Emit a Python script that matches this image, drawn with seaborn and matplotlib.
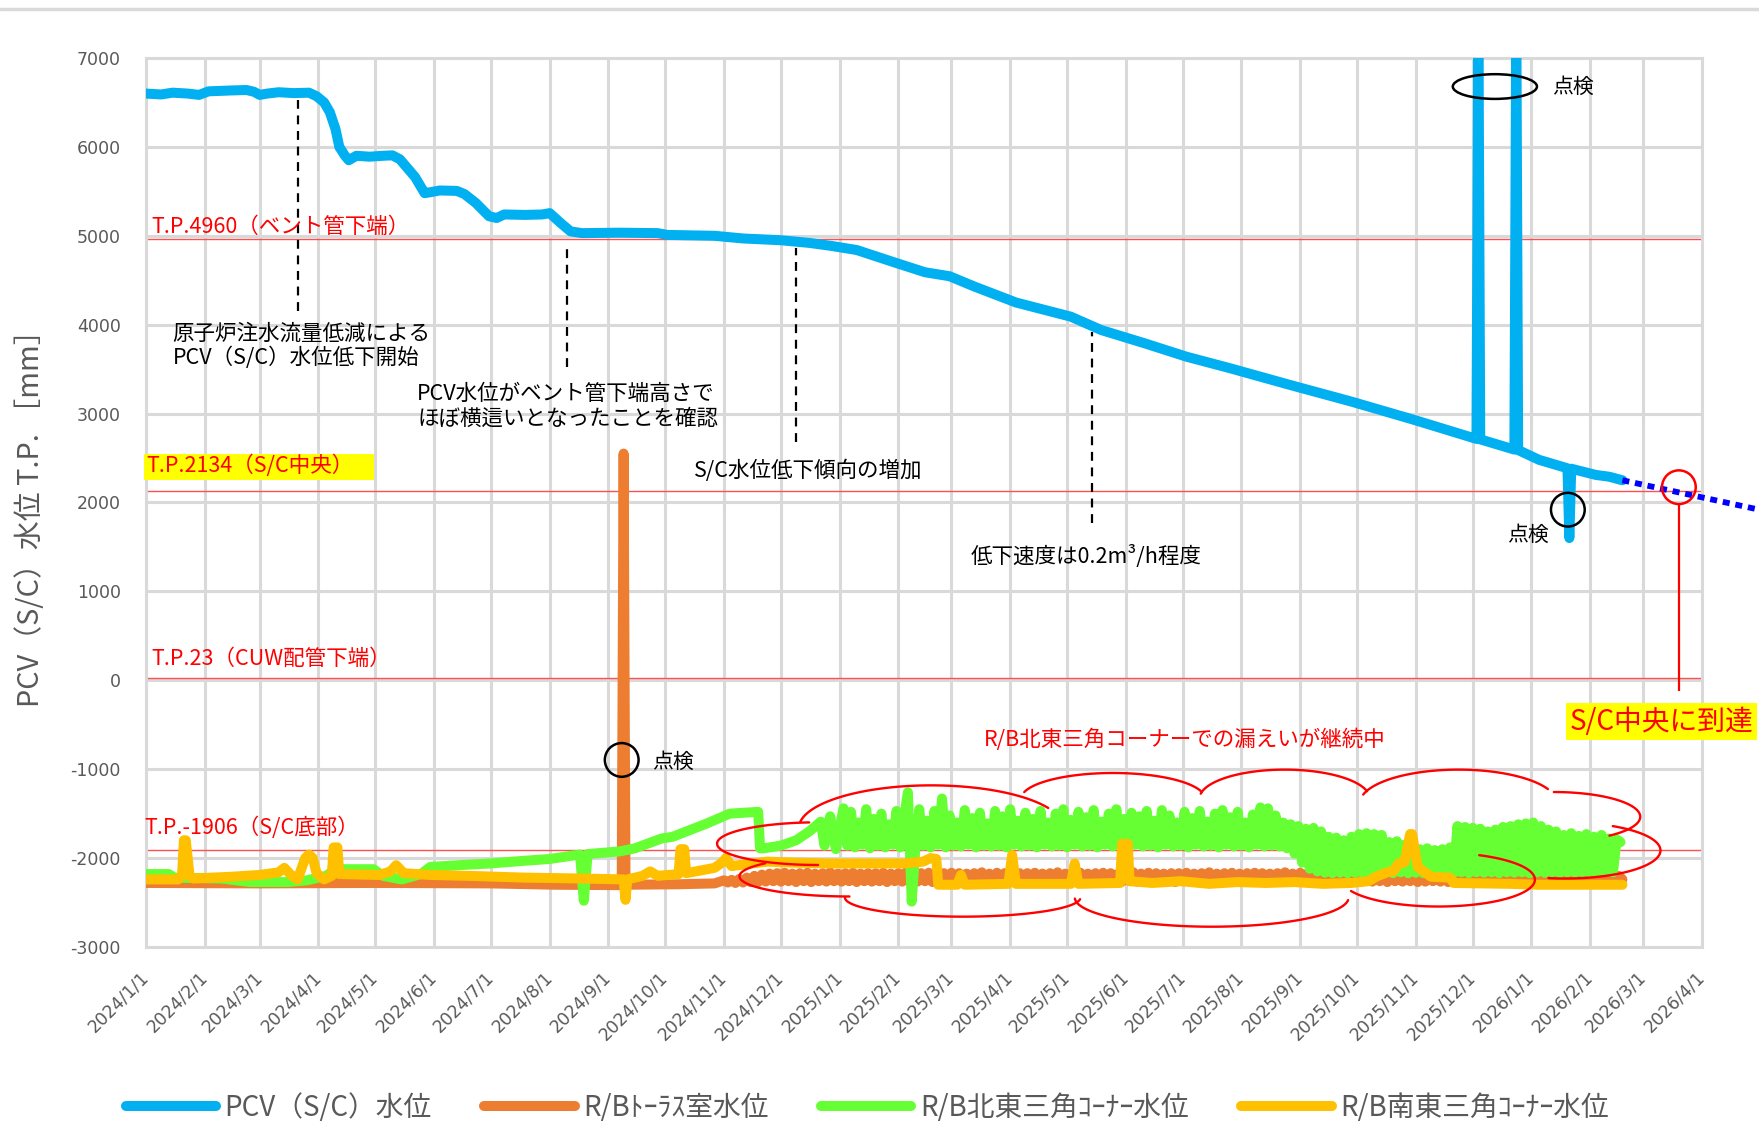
import matplotlib
matplotlib.use("Agg")
import matplotlib.pyplot as plt
import matplotlib.dates as mdates
from matplotlib.patches import Ellipse, Rectangle
from matplotlib.lines import Line2D
import numpy as np
import pandas as pd
import seaborn as sns

# ---------------- data (T.P. mm) ----------------
# PCV (S/C) water level
pcv_dates = [
    "2024-01-01", "2024-01-09", "2024-01-15", "2024-01-23", "2024-01-29", "2024-02-03",
    "2024-02-15", "2024-02-23", "2024-02-27", "2024-03-01", "2024-03-05", "2024-03-11",
    "2024-03-19", "2024-03-27", "2024-03-31", "2024-04-04", "2024-04-07", "2024-04-10",
    "2024-04-12", "2024-04-15", "2024-04-17", "2024-04-21", "2024-04-28", "2024-05-05",
    "2024-05-10", "2024-05-14", "2024-05-22", "2024-05-27", "2024-05-30", "2024-06-04",
    "2024-06-13", "2024-06-17", "2024-06-23", "2024-06-30", "2024-07-04", "2024-07-08",
    "2024-07-19", "2024-07-28", "2024-08-01", "2024-08-07", "2024-08-12", "2024-08-18",
    "2024-09-07", "2024-09-27", "2024-10-02", "2024-10-27", "2024-11-11", "2024-12-01",
    "2024-12-16", "2024-12-28", "2025-01-10", "2025-01-30", "2025-02-15", "2025-02-28",
    "2025-03-13", "2025-04-04", "2025-05-03", "2025-05-19", "2025-06-11", "2025-07-03",
    "2025-07-26", "2025-08-27", "2025-09-28", "2025-10-31", "2025-12-03", "2025-12-04",
    "2025-12-05", "2025-12-23", "2025-12-24", "2025-12-25", "2026-01-05", "2026-01-20",
    "2026-01-21", "2026-01-22", "2026-02-04", "2026-02-11", "2026-02-18",
]
pcv_vals = [
    6600, 6590, 6610, 6600, 6585, 6625,
    6635, 6640, 6620, 6585, 6600, 6615,
    6605, 6610, 6570, 6500, 6390, 6200,
    6000, 5900, 5850, 5900, 5890, 5900,
    5905, 5860, 5660, 5480, 5490, 5510,
    5505, 5470, 5370, 5220, 5200, 5240,
    5235, 5240, 5255, 5140, 5050, 5030,
    5035, 5030, 5010, 5000, 4970, 4950,
    4920, 4885, 4840, 4700, 4590, 4545,
    4430, 4250, 4090, 3940, 3790, 3640,
    3510, 3320, 3135, 2930, 2715, 7600,
    2710, 2595, 7600, 2590, 2480, 2385,
    1600, 2380, 2310, 2290, 2250,
]

# projected PCV trend (dotted)
trend_dates = ["2026-02-18", "2026-05-01"]
trend_vals = [2250, 1920]

# R/B torus room
torus_dates = [
    "2024-01-01", "2024-03-01", "2024-05-01", "2024-07-01", "2024-08-04", "2024-09-07",
    "2024-09-08", "2024-09-09", "2024-09-10", "2024-10-07", "2024-10-27",
]
torus_vals = [-2280, -2285, -2280, -2285, -2300, -2305, -2305, 2550, -2300, -2295, -2285]
torus_band_start = "2024-11-01"   # readings every 2 days from here
torus_band_vals = [
    -2250, -2275, -2245, -2280, -2235, -2275, -2220, -2270, -2200, -2270,
    -2185, -2265, -2175, -2260, -2170, -2265, -2165, -2260, -2175, -2270,
    -2170, -2260, -2165, -2270, -2175, -2260, -2170, -2265, -2160, -2260,
    -2175, -2265, -2170, -2260, -2165, -2270, -2175, -2260, -2170, -2265,
    -2170, -2260, -2165, -2270, -2175, -2260, -2170, -2265, -2160, -2260,
    -2175, -2265, -2170, -2260, -2165, -2270, -2175, -2260, -2170, -2265,
    -2165, -2260, -2170, -2270, -2175, -2265, -2170, -2260, -2160, -2265,
    -2175, -2270, -2165, -2260, -2170, -2265, -2175, -2260, -2170, -2270,
    -2170, -2260, -2165, -2270, -2175, -2260, -2170, -2265, -2160, -2260,
    -2175, -2265, -2170, -2260, -2165, -2270, -2175, -2260, -2170, -2265,
    -2165, -2260, -2170, -2270, -2175, -2265, -2170, -2260, -2160, -2265,
    -2175, -2270, -2165, -2260, -2170, -2265, -2175, -2260, -2170, -2270,
    -2170, -2260, -2165, -2270, -2175, -2260, -2170, -2265, -2160, -2260,
    -2175, -2265, -2170, -2260, -2165, -2270, -2175, -2260, -2170, -2265,
    -2165, -2260, -2170, -2270, -2175, -2265, -2170, -2260, -2160, -2265,
    -2175, -2270, -2165, -2260, -2170, -2265, -2175, -2260, -2170, -2270,
    -2170, -2260, -2165, -2270, -2175, -2260, -2170, -2265, -2160, -2260,
    -2175, -2265, -2170, -2260, -2165, -2270, -2175, -2260, -2170, -2265,
    -2165, -2260, -2170, -2270, -2175, -2265, -2170, -2260, -2160, -2265,
    -2175, -2270, -2165, -2260, -2170, -2265, -2175, -2260, -2170, -2270,
    -2170, -2260, -2165, -2270, -2175, -2260, -2170, -2265, -2160, -2260,
    -2175, -2265, -2170, -2260, -2165, -2270, -2175, -2260, -2170, -2265,
    -2165, -2260, -2170, -2270, -2175, -2265, -2170, -2260, -2160, -2265,
    -2170, -2260, -2165, -2270, -2175, -2260, -2200, -2240,
]

# R/B north-east triangle corner
ne_dates = [
    "2024-01-01", "2024-01-13", "2024-01-16", "2024-02-10", "2024-02-25", "2024-03-16",
    "2024-03-26", "2024-04-05", "2024-04-10", "2024-04-30", "2024-05-05", "2024-05-15",
    "2024-05-25", "2024-05-30", "2024-06-14", "2024-07-01", "2024-07-19", "2024-08-01",
    "2024-08-17", "2024-08-19", "2024-08-21", "2024-09-07", "2024-09-15", "2024-09-29",
    "2024-10-05", "2024-10-23", "2024-11-04", "2024-11-19", "2024-11-20", "2024-11-22",
    "2024-12-01", "2024-12-09", "2024-12-16", "2024-12-22", "2024-12-24", "2024-12-27",
    "2024-12-30", "2025-01-03",
]
ne_vals = [
    -2180, -2180, -2220, -2230, -2270, -2270,
    -2250, -2200, -2125, -2125, -2200, -2240,
    -2180, -2100, -2080, -2060, -2030, -2010,
    -1960, -2480, -1955, -1925, -1890, -1780,
    -1760, -1610, -1500, -1480, -1890, -1890,
    -1860, -1800, -1700, -1590, -1860, -1530,
    -1900, -1440,
]
ne_band_start = "2025-01-05"   # readings every 2 days from here
ne_band_vals = [
    -1860, -1480, -1880, -1600, -1850, -1450, -1890, -1560, -1860, -1500,
    -1880, -1620, -1850, -1470, -1880, -1540, -1260, -2490, -1870, -1450,
    -1860, -1580, -1880, -1470, -1850, -1330, -1880, -1520, -1860, -1600,
    -1870, -1460, -1850, -1550, -1880, -1490, -1860, -1610, -1870, -1470,
    -1860, -1530, -1880, -1450, -1850, -1580, -1870, -1490, -1860, -1560,
    -1880, -1470, -1850, -1600, -1870, -1500, -1860, -1450, -1880, -1570,
    -1850, -1480, -1870, -1540, -1860, -1460, -1880, -1590, -1850, -1500,
    -1870, -1450, -1860, -1560, -1880, -1490, -1850, -1530, -1870, -1470,
    -1860, -1580, -1880, -1460, -1850, -1520, -1870, -1600, -1860, -1480,
    -1880, -1550, -1850, -1470, -1870, -1590, -1860, -1500, -1880, -1460,
    -1850, -1540, -1870, -1480, -1860, -1600, -1880, -1510, -1850, -1430,
    -1870, -1440, -1860, -1520, -1870, -1600, -1890, -1620, -1950, -1640,
    -2050, -1670, -2120, -1660, -2150, -1700, -2165, -1760, -2170, -1770,
    -2165, -1800, -2170, -1760, -2165, -1730, -2170, -1720, -2160, -1730,
    -2170, -1740, -2165, -1820, -2170, -1810, -2160, -1850, -2170, -1880,
    -2165, -1900, -2170, -1890, -2160, -1910, -2170, -1900, -2160, -1880,
    -2170, -1640, -2160, -1650, -2170, -1660, -2160, -1670, -2165, -1700,
    -2160, -1680, -2170, -1650, -2160, -1640, -2165, -1620, -2160, -1610,
    -2170, -1600, -2160, -1640, -2165, -1680, -2160, -1700, -2170, -1740,
    -2160, -1720, -2165, -1750, -2160, -1730, -2170, -1760, -2160, -1740,
    -2150, -1780, -2160, -1790, -1820,
]

# R/B south-east triangle corner
se_dates = [
    "2024-01-01", "2024-01-18", "2024-01-20", "2024-01-21", "2024-01-22", "2024-01-24",
    "2024-01-26", "2024-02-15", "2024-03-01", "2024-03-11", "2024-03-14", "2024-03-17",
    "2024-03-21", "2024-03-25", "2024-03-27", "2024-03-29", "2024-03-31", "2024-04-04",
    "2024-04-08", "2024-04-09", "2024-04-11", "2024-04-12", "2024-05-03", "2024-05-09",
    "2024-05-12", "2024-05-16", "2024-05-30", "2024-06-19", "2024-07-19", "2024-08-18",
    "2024-09-09", "2024-09-10", "2024-09-11", "2024-09-19", "2024-09-23", "2024-09-27",
    "2024-10-08", "2024-10-09", "2024-10-11", "2024-10-12", "2024-10-27", "2024-10-31",
    "2024-11-02", "2024-11-05", "2024-11-16", "2024-11-24", "2024-12-06", "2024-12-26",
    "2025-01-15", "2025-02-04", "2025-02-14", "2025-02-18", "2025-02-21", "2025-02-22",
    "2025-03-04", "2025-03-06", "2025-03-08", "2025-03-31", "2025-04-02", "2025-04-04",
    "2025-05-03", "2025-05-05", "2025-05-07", "2025-05-29", "2025-05-30", "2025-06-02",
    "2025-06-03", "2025-06-15", "2025-06-30", "2025-07-15", "2025-07-30", "2025-08-14",
    "2025-08-29", "2025-09-13", "2025-09-28", "2025-10-07", "2025-10-12", "2025-10-17",
    "2025-10-20", "2025-10-23", "2025-10-26", "2025-10-29", "2025-10-30", "2025-11-02",
    "2025-11-09", "2025-11-19", "2025-11-21", "2025-12-21", "2026-01-05", "2026-02-18",
]
se_vals = [
    -2240, -2240, -2200, -1800, -1800, -2200,
    -2230, -2210, -2190, -2160, -2110, -2180,
    -2240, -2000, -1960, -2000, -2170, -2240,
    -2200, -1880, -1880, -2180, -2190, -2150,
    -2080, -2170, -2190, -2200, -2220, -2230,
    -2240, -2470, -2240, -2200, -2150, -2200,
    -2180, -1900, -1900, -2170, -2110, -2050,
    -2000, -2090, -2060, -2040, -2050, -2060,
    -2060, -2060, -2040, -2000, -2010, -2300,
    -2300, -2190, -2300, -2290, -1965, -2290,
    -2290, -2060, -2290, -2280, -1840, -1840,
    -2260, -2280, -2260, -2290, -2270, -2280,
    -2270, -2290, -2280, -2260, -2200, -2160,
    -2150, -2060, -2050, -1730, -1730, -2100,
    -2210, -2220, -2280, -2290, -2300, -2300,
]

series_names = ["PCV（S/C）水位", "R/Bﾄｰﾗｽ室水位", "R/B北東三角ｺｰﾅｰ水位", "R/B南東三角ｺｰﾅｰ水位"]
series_colors = ["#00B0F0", "#ED7D31", "#66FF33", "#FFC000"]

ref_levels = [4960, 2134, 23, -1906]
ref_labels = ["T.P.4960（ベント管下端）", "T.P.2134（S/C中央）", "T.P.23（CUW配管下端）", "T.P.-1906（S/C底部）"]
ref_label_x = ["2024-01-04", "2024-01-01", "2024-01-04", "2023-12-31"]
ref_label_y = [5101, 2411, 240, -1654]

month_ticks = pd.date_range("2024-01-01", "2026-04-01", freq="MS")
y_ticks = list(range(-3000, 7001, 1000))


def series_frame(dates, vals, band_start=None, band_vals=None):
    d = pd.to_datetime(dates)
    v = list(vals)
    if band_start is not None:
        d = d.append(pd.date_range(band_start, periods=len(band_vals), freq="2D"))
        v = v + list(band_vals)
    return pd.DataFrame({"date": d, "level": v})


pcv_df = series_frame(pcv_dates, pcv_vals)
torus_df = series_frame(torus_dates, torus_vals, torus_band_start, torus_band_vals)
ne_df = series_frame(ne_dates, ne_vals, ne_band_start, ne_band_vals)
se_df = series_frame(se_dates, se_vals)

# ---------------- plot ----------------
sns.set_style("white")
plt.rcParams["font.family"] = ["Noto Sans CJK JP", "DejaVu Sans"]

fig = plt.figure(figsize=(17.59, 11.22), dpi=100)
ax = fig.add_axes([0.083, 0.156, 0.8846, 0.7923])

LW = 7.2
for df, color, z in zip([pcv_df, torus_df, ne_df, se_df], series_colors, [6, 3, 4, 5]):
    sns.lineplot(
        data=df, x="date", y="level", ax=ax,
        color=color, linewidth=LW, estimator=None, legend=False,
        solid_capstyle="round", solid_joinstyle="round", zorder=z
    )

# projection
ax.plot(
    pd.to_datetime(trend_dates), trend_vals,
    color="#0000FF", lw=4.2, ls=(0, (1.2, 1.0)),
    dash_capstyle="butt", clip_on=False, zorder=6
)

ax.set_xlim(pd.Timestamp("2024-01-01"), pd.Timestamp("2026-04-01"))
ax.set_ylim(-3000, 7000)
ax.set_xticks(month_ticks)
ax.set_xticklabels([f"{d.year}/{d.month}/{d.day}" for d in month_ticks])
ax.set_yticks(y_ticks)
ax.set_yticklabels([str(v) for v in y_ticks])
ax.tick_params(axis="both", length=0, labelcolor="#595959", labelsize=12.5)
ax.tick_params(axis="x", pad=20)
ax.tick_params(axis="y", pad=18)
plt.setp(ax.get_xticklabels(), rotation=45, ha="right", va="center",
         rotation_mode="anchor", fontfamily="DejaVu Sans")
plt.setp(ax.get_yticklabels(), fontfamily="DejaVu Sans")

ax.grid(True, color="#D9D9D9", lw=2.2)
ax.set_axisbelow(True)
for s in ax.spines.values():
    s.set_color("#D9D9D9")
    s.set_linewidth(2.2)

ax.set_xlabel("")
ax.set_ylabel("PCV（S/C）水位 T.P. ［mm］", color="#595959", fontsize=20.8)
ax.yaxis.set_label_coords(-0.064, 0.49)

# reference levels
for lv in ref_levels:
    ax.axhline(lv, color="#FF5050", lw=1.0, zorder=2)
ax.add_patch(Rectangle((-0.0014, 0.5253), 0.1478, 0.029, transform=ax.transAxes,
                       fc="#FFFF00", ec="none", zorder=7, clip_on=False))
for lab, xd, yv in zip(ref_labels, ref_label_x, ref_label_y):
    ax.text(pd.Timestamp(xd), yv, lab, color="red", fontsize=15.5,
            ha="left", va="center", zorder=8, clip_on=False)

# notes with dashed guides
guide_x = pd.to_datetime(["2024-03-21", "2024-08-10", "2024-12-09", "2025-05-14"])
guide_top = [6528, 4861, 4861, 3914]
guide_bottom = [4154, 3523, 2677, 1768]
ax.vlines(guide_x, guide_bottom, guide_top, colors="black",
          linestyles=(0, (4, 3)), lw=1.6, zorder=7)

notes = [
    ("2024-01-15", 3763, "原子炉注水流量低減による\nPCV（S/C）水位低下開始"),
    ("2024-05-23", 3081, "PCV水位がベント管下端高さで\nほぼ横這いとなったことを確認"),
    ("2024-10-16", 2361, "S/C水位低下傾向の増加"),
    ("2025-03-11", 1389, "低下速度は0.2m³/h程度"),
]
for xd, yv, txt in notes:
    ax.text(pd.Timestamp(xd), yv, txt, color="black", fontsize=15.5,
            ha="left", va="center", linespacing=1.15, zorder=8)

# inspection marks
insp = [
    ("2025-12-12 17:00", 6679, 44.4, 278, "2026-01-11 19:00", 6679),
    ("2026-01-20 05:00", 1919, 17.8, 379, "2025-12-19 05:00", 1641),
    ("2024-09-08 00:00", -896, 17.8, 379, "2024-09-24 00:00", -922),
]
for cx, cy, w, h, tx, ty in insp:
    ax.add_patch(Ellipse((mdates.date2num(pd.Timestamp(cx)), cy), w, h,
                         fill=False, ec="black", lw=1.8, zorder=9))
    ax.text(pd.Timestamp(tx), ty, "点検", fontsize=15, color="black",
            ha="left", va="center", zorder=9)

# S/C centre reach marker
reach_x = pd.Timestamp("2026-03-19 19:00")
ax.add_patch(Ellipse((mdates.date2num(reach_x), 2172), 17.8, 379,
                     fill=False, ec="red", lw=1.8, zorder=9, clip_on=False))
ax.vlines([reach_x], [-126], [1970], colors="red", lw=1.6, zorder=9)
ax.add_patch(Rectangle((0.9128, 0.2323), 0.1225, 0.0417, transform=ax.transAxes,
                       fc="#FFFF00", ec="none", zorder=9, clip_on=False))
ax.text(0.974, 0.2532, "S/C中央に到達", transform=ax.transAxes, color="red",
        fontsize=20, ha="center", va="center", zorder=10, clip_on=False)

# leak cloud
ax.text(pd.Timestamp("2025-03-18"), -669, "R/B北東三角コーナーでの漏えいが継続中",
        color="red", fontsize=15.5, ha="left", va="center", zorder=9)
cloud_lobes = [
    (0.5047, 0.1338, 0.0851, 0.0480, 172, 28),
    (0.6215, 0.1667, 0.0591, 0.0290, 165, 15),
    (0.7318, 0.1667, 0.0548, 0.0328, 170, 15),
    (0.8435, 0.1616, 0.0634, 0.0379, 165, 25),
    (0.9048, 0.1465, 0.0555, 0.0278, 90, -50),
    (0.9120, 0.1086, 0.0613, 0.0316, 60, -100),
    (0.8306, 0.0758, 0.0620, 0.0303, 65, -155),
    (0.6849, 0.0556, 0.0880, 0.0328, -5, -178),
    (0.5249, 0.0556, 0.0757, 0.0215, -5, -180),
    (0.4521, 0.0795, 0.0707, 0.0227, -90, -220),
    (0.4319, 0.1162, 0.0649, 0.0240, -90, -265),
]
for cx, cy, rx, ry, t1, t2 in cloud_lobes:
    t = np.deg2rad(np.linspace(t1, t2, 80))
    ax.plot(cx + rx * np.cos(t), cy + ry * np.sin(t), transform=ax.transAxes,
            color="red", lw=1.7, zorder=8, clip_on=False)

# legend
handles = [Line2D([], [], color=c, lw=LW, solid_capstyle="round") for c in series_colors]
leg = fig.legend(handles, series_names, loc="center", bbox_to_anchor=(0.493, 0.0125),
                 ncol=4, frameon=False, fontsize=20, handlelength=3.25,
                 handletextpad=0.3, columnspacing=1.9)
for t in leg.get_texts():
    t.set_color("#595959")

# top border line
fig.add_artist(Line2D([0, 1], [0.992, 0.992], transform=fig.transFigure,
                      color="#D9D9D9", lw=2.5))

fig.savefig("out.png", dpi=100)
plt.close(fig)
